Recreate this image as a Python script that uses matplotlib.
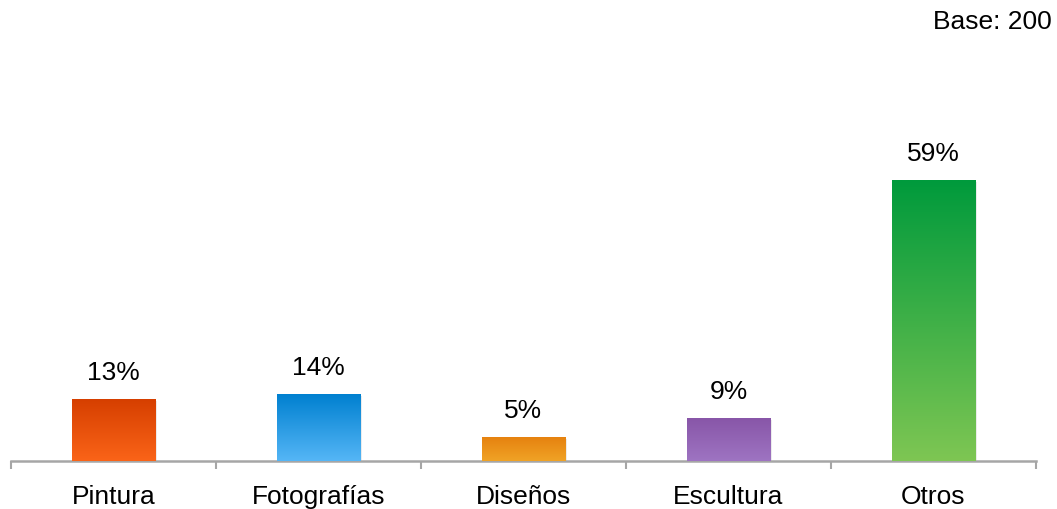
import numpy as np
import matplotlib
matplotlib.use("Agg")
import matplotlib.pyplot as plt
from matplotlib.colors import LinearSegmentedColormap

categories = ["Pintura", "Fotografías", "Diseños", "Escultura", "Otros"]
values = [13, 14, 5, 9, 59]
labels = ["13%", "14%", "5%", "9%", "59%"]
top_colors = ["#D63F00", "#0080D0", "#E6820F", "#8856A8", "#009A3C"]
bottom_colors = ["#FA6418", "#55B6F6", "#F0A326", "#9E74C2", "#7EC653"]

plt.rcParams['font.family'] = ['Liberation Sans', 'DejaVu Sans']

W, H = 1057, 509
fig = plt.figure(figsize=(W / 100, H / 100), dpi=100)
ax_left, ax_right, ax_bottom, ax_top = 11, 1036, 461, 80
ax = fig.add_axes([ax_left / W, (H - ax_bottom) / H, (ax_right - ax_left) / W, (ax_bottom - ax_top) / H])

px_per_unit = 4.76
ymax = (ax_bottom - ax_top) / px_per_unit
ax.set_xlim(-0.5, len(categories) - 0.5)
ax.set_ylim(0, ymax)

width = 0.405
x = np.arange(len(categories))
bars = ax.bar(x, values, width=width, color="none", edgecolor="none", zorder=3)
grad = np.linspace(0, 1, 256).reshape(-1, 1)
for i, b in enumerate(bars):
    x0 = b.get_x()
    h = b.get_height()
    # soft shadow
    ax.bar(x[i] + 0.006, h, width=width + 0.008, bottom=-0.3, color="#000000", alpha=0.08, zorder=2)
    cmap = LinearSegmentedColormap.from_list("g%d" % i, [bottom_colors[i], top_colors[i]])
    im = ax.imshow(grad, cmap=cmap, aspect="auto", origin="lower",
                   extent=[x0, x0 + b.get_width(), 0, h], zorder=3)
    im.set_clip_path(b)
    ax.annotate(labels[i], (x[i], h), xytext=(0, 10), textcoords="offset points",
                ha="center", va="bottom", fontsize=19, color="#000000")

ax.set_xlim(-0.5, len(categories) - 0.5)
ax.set_ylim(0, ymax)

for s in ["top", "right", "left"]:
    ax.spines[s].set_visible(False)
ax.spines["bottom"].set_color("#A6A6A6")
ax.spines["bottom"].set_linewidth(1.8)
ax.set_yticks([])
ax.set_xticks(np.arange(-0.5, len(categories), 1.0), minor=False)
ax.set_xticklabels([])
ax.tick_params(axis="x", which="major", length=6, width=1.5, color="#A6A6A6")
ax.set_xticks(x, minor=True)
ax.set_xticklabels(categories, minor=True, fontsize=19)
ax.tick_params(axis="x", which="minor", length=0, pad=17)

fig.text(1052 / W, 1 - 22 / H, "Base: 200", ha="right", va="center", fontsize=19)

fig.savefig("out.png", dpi=100)
